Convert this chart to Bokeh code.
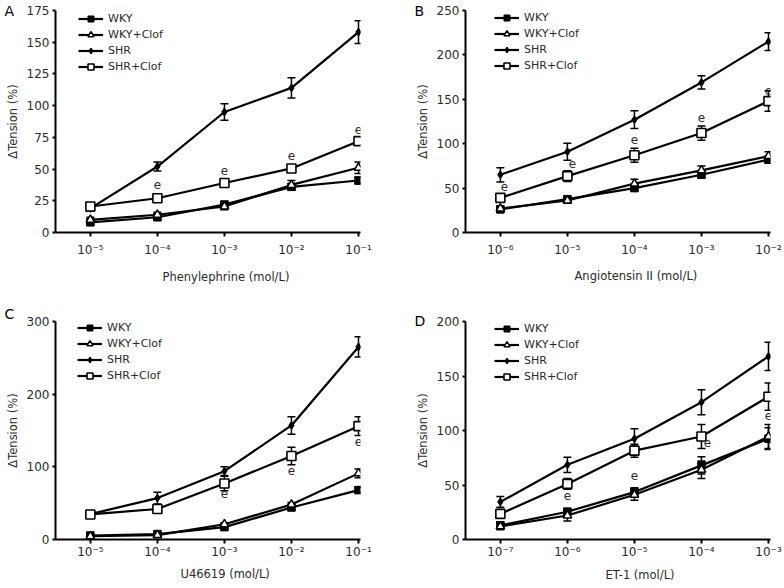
from bokeh.plotting import figure
from bokeh.layouts import gridplot
from bokeh.models import (ColumnDataSource, Whisker, TeeHead, Legend, LegendItem,
                          Title, FixedTicker, Range1d)
from bokeh.embed import file_html
from bokeh.resources import INLINE
from bokeh.core.properties import value

FONT = "DejaVu Sans"
TXT = "#2a2a2a"

series_names = ["WKY", "WKY+Clof", "SHR", "SHR+Clof"]

# ---------------- Panel A: Phenylephrine ----------------
ticks_A = ["10⁻⁵", "10⁻⁴", "10⁻³", "10⁻²", "10⁻¹"]
wky_A = [8, 12, 22, 36, 41]
wky_A_err = [2, 2, 2.5, 2.5, 2.5]
wkyc_A = [10, 14, 20.5, 37.5, 51]
wkyc_A_err = [2, 2, 2.5, 3.5, 4.5]
shr_A = [19, 52, 95, 114, 158]
shr_A_err = [2, 3.5, 6.5, 8, 9]
shrc_A = [20.5, 27, 39, 50.5, 72]
shrc_A_err = [2, 2, 2.5, 2.5, 3]
e_idx_A = [1, 2, 3, 4]

# ---------------- Panel B: Angiotensin II ----------------
ticks_B = ["10⁻⁶", "10⁻⁵", "10⁻⁴", "10⁻³", "10⁻²"]
wky_B = [26, 37.5, 50, 65, 82]
wky_B_err = [3, 3, 3, 4, 4]
wkyc_B = [27, 36, 55, 70, 86]
wkyc_B_err = [3, 3, 5, 5, 5]
shr_B = [65, 91, 127, 169, 215]
shr_B_err = [8, 9.5, 10, 7.5, 10]
shrc_B = [39, 63.5, 87, 112, 148]
shrc_B_err = [4, 6, 8, 8, 11.5]
e_idx_B = [0, 1, 2, 3, 4]

# ---------------- Panel C: U46619 ----------------
ticks_C = ["10⁻⁵", "10⁻⁴", "10⁻³", "10⁻²", "10⁻¹"]
wky_C = [5.5, 7.5, 17, 44, 68]
wky_C_err = [2, 2, 2, 3, 4]
wkyc_C = [4.5, 6, 21, 48, 91]
wkyc_C_err = [2, 2, 2, 3, 6]
shr_C = [35, 57, 94, 157, 265]
shr_C_err = [3, 8, 6, 12, 14]
shrc_C = [34.5, 42, 77, 115, 156]
shrc_C_err = [3, 5, 10, 12, 13]
e_idx_C = [2, 3, 4]

# ---------------- Panel D: ET-1 ----------------
ticks_D = ["10⁻⁷", "10⁻⁶", "10⁻⁵", "10⁻⁴", "10⁻³"]
wky_D = [13, 25.5, 43.5, 68, 92.5]
wky_D_err = [3, 3, 4, 8, 10]
wkyc_D = [12, 22, 41, 64, 94.5]
wkyc_D_err = [3, 5, 5, 8, 11]
shr_D = [34.5, 68.5, 92.5, 126, 168]
shr_D_err = [5, 7, 9, 11.5, 13]
shrc_D = [23.5, 51, 81.5, 94.5, 131]
shrc_D_err = [4, 5, 6, 11, 12.5]
e_idx_D = [1, 2, 3, 4]

# marker styles per series
styles = [
    dict(marker="square", size=7.5, fill_color="black", line_width=1),
    dict(marker="triangle", size=8.5, fill_color="white", line_width=1.5),
    dict(marker="diamond", size=8, fill_color="black", line_width=1),
    dict(marker="square", size=9, fill_color="white", line_width=1.6),
]


def panel(letter, ticks, xlabel, ymax, ystep, data, e_idx, e_dx, e_dy,
          b_left, b_top, frame_h, letter_standoff, legend_x, legend_top,
          tick_standoff, xlabel_offset, xlabel_standoff):
    W, H = 392, 294
    frame_w = 305
    p = figure(width=W, height=H, output_backend="svg", toolbar_location=None,
               x_range=Range1d(-0.52, 4.03), y_range=Range1d(0, ymax),
               min_border_left=b_left, min_border_right=W - b_left - frame_w,
               min_border_top=b_top, min_border_bottom=H - b_top - frame_h,
               background_fill_color="white", border_fill_color="white")
    p.outline_line_color = None
    p.xgrid.visible = False
    p.ygrid.visible = False

    # panel letter as the figure title, shifted left of the frame
    p.title.text = letter
    p.title.align = "left"
    p.title.offset = -51
    p.title.vertical_align = "middle"
    p.title.standoff = letter_standoff
    p.title.text_font = FONT
    p.title.text_font_size = "14px"
    p.title.text_font_style = "normal"
    p.title.text_color = "black"

    xs = list(range(len(ticks)))
    p.xaxis.ticker = FixedTicker(ticks=xs)
    p.xaxis.major_label_overrides = {i: t for i, t in enumerate(ticks)}
    p.yaxis.ticker = FixedTicker(ticks=list(range(0, ymax + 1, ystep)))
    for ax in (p.xaxis, p.yaxis):
        ax.axis_line_width = 2
        ax.axis_line_color = "black"
        ax.major_tick_line_width = 2
        ax.major_tick_line_color = "black"
        ax.major_tick_in = 0
        ax.minor_tick_line_color = None
        ax.major_label_text_font = FONT
        ax.major_label_text_font_size = "12px"
        ax.major_label_text_color = TXT
    p.xaxis.major_tick_out = 4
    p.yaxis.major_tick_out = 3
    p.xaxis.major_label_standoff = tick_standoff
    p.yaxis.major_label_standoff = 3
    p.yaxis.axis_label = "ΔTension (%)"
    p.yaxis.axis_label_text_font = FONT
    p.yaxis.axis_label_text_font_size = "11.5px"
    p.yaxis.axis_label_text_font_style = "normal"
    p.yaxis.axis_label_text_color = TXT
    p.yaxis.axis_label_standoff = 4

    items = []
    for name, (vals, errs), st in zip(series_names, data, styles):
        src = ColumnDataSource(dict(x=xs, y=vals,
                                    upper=[v + e for v, e in zip(vals, errs)],
                                    lower=[v - e for v, e in zip(vals, errs)]))
        w = Whisker(source=src, base="x", upper="upper", lower="lower",
                    line_color="black", line_width=1.5,
                    upper_head=TeeHead(size=8, line_width=1.5, line_color="black"),
                    lower_head=TeeHead(size=8, line_width=1.5, line_color="black"))
        p.add_layout(w)
        lr = p.line("x", "y", source=src, line_color="black", line_width=2.2)
        sr = p.scatter("x", "y", source=src, line_color="black", **st)
        items.append(LegendItem(label=name, renderers=[lr, sr]))

    # significance marks "e" on SHR+Clof
    shrc_vals = data[3][0]
    esrc = ColumnDataSource(dict(x=e_idx, y=[shrc_vals[i] for i in e_idx],
                                 dx=e_dx, dy=e_dy))
    p.text("x", "y", text=value("e"), x_offset="dx", y_offset="dy", source=esrc,
           text_font=value(FONT), text_font_size="12px", text_color=TXT,
           text_align="center", text_baseline="middle")

    leg_h = 4 * 15 + 3 * 1
    legend = Legend(items=items, location=(legend_x, frame_h - legend_top - leg_h),
                    glyph_width=25, glyph_height=15, label_height=15, spacing=1,
                    padding=0, margin=0, label_standoff=5,
                    label_text_font=FONT, label_text_font_size="11px",
                    label_text_color=TXT, border_line_color=None,
                    background_fill_alpha=0)
    p.add_layout(legend)

    xt = Title(text=xlabel, align="left", offset=xlabel_offset, vertical_align="middle",
               standoff=xlabel_standoff, text_font=FONT, text_font_size="11.5px",
               text_font_style="normal", text_color=TXT)
    p.add_layout(xt, "below")
    return p


pA = panel("A", ticks_A, "Phenylephrine (mol/L)", 175, 25,
           [(wky_A, wky_A_err), (wkyc_A, wkyc_A_err), (shr_A, shr_A_err), (shrc_A, shrc_A_err)],
           e_idx_A, [0, 0, 0, 0], [-14, -13, -13, -12],
           b_left=55, b_top=10, frame_h=223, letter_standoff=-18, legend_x=23,
           legend_top=2, tick_standoff=6, xlabel_offset=107, xlabel_standoff=19)
pB = panel("B", ticks_B, "Angiotensin II (mol/L)", 250, 50,
           [(wky_B, wky_B_err), (wkyc_B, wkyc_B_err), (shr_B, shr_B_err), (shrc_B, shrc_B_err)],
           e_idx_B, [4, 5, 0, 0, 0], [-11, -13, -16, -16, -11],
           b_left=73, b_top=9, frame_h=224, letter_standoff=-18, legend_x=29,
           legend_top=2, tick_standoff=6, xlabel_offset=109, xlabel_standoff=16)
pC = panel("C", ticks_C, "U46619 (mol/L)", 300, 100,
           [(wky_C, wky_C_err), (wkyc_C, wkyc_C_err), (shr_C, shr_C_err), (shrc_C, shrc_C_err)],
           e_idx_C, [0, 0, 0], [10, 15, 15],
           b_left=55, b_top=27, frame_h=223, letter_standoff=-2, legend_x=22,
           legend_top=4, tick_standoff=1, xlabel_offset=125, xlabel_standoff=9)
pD = panel("D", ticks_D, "ET-1 (mol/L)", 200, 50,
           [(wky_D, wky_D_err), (wkyc_D, wkyc_D_err), (shr_D, shr_D_err), (shrc_D, shrc_D_err)],
           e_idx_D, [0, 0, 6, 0], [12, 25, 6, 19],
           b_left=73, b_top=26, frame_h=222, letter_standoff=-16, legend_x=29,
           legend_top=4, tick_standoff=1, xlabel_offset=140, xlabel_standoff=11)

grid = gridplot([[pA, pB], [pC, pD]], toolbar_location=None)

open("out.html", "w").write(file_html(grid, INLINE))
